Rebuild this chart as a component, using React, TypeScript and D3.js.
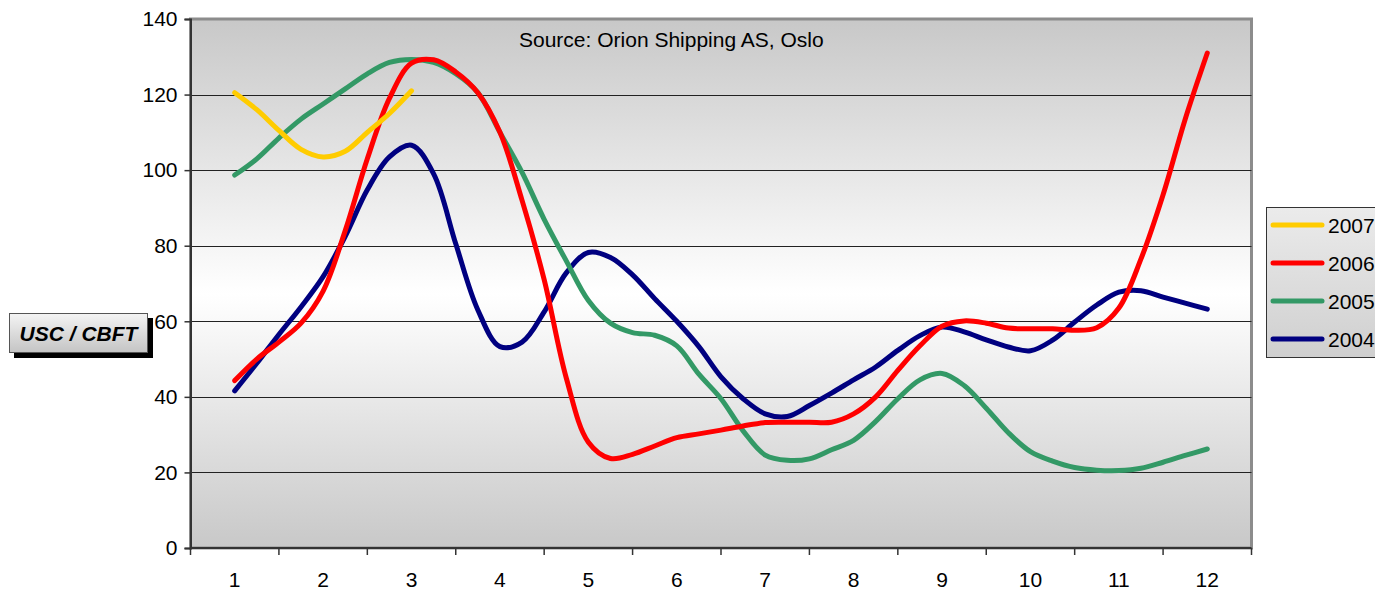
import * as d3 from "d3";
import { useEffect, useRef } from "react";

const W = 1375;
const H = 593;
const FONT = "'Liberation Sans', Arial, sans-serif";

const MONTHS = [1, 2, 3, 4, 5, 6, 7, 8, 9, 10, 11, 12];
const Y_TICKS = [0, 20, 40, 60, 80, 100, 120, 140];

// readings taken every quarter of a month
const POS = [
  1, 1.25, 1.5, 1.75, 2, 2.25, 2.5, 2.75, 3, 3.25, 3.5, 3.75, 4, 4.25, 4.5, 4.75,
  5, 5.25, 5.5, 5.75, 6, 6.25, 6.5, 6.75, 7, 7.25, 7.5, 7.75, 8, 8.25, 8.5, 8.75,
  9, 9.25, 9.5, 9.75, 10, 10.25, 10.5, 10.75, 11, 11.25, 11.5, 11.75, 12,
];

const Y2007 = [120.5, 116, 110.5, 105.5, 103.5, 105, 110, 115, 121];

const Y2006 = [
  44.3, 50, 54.5, 59.5, 68, 84, 103, 119, 128.3, 129.2, 126, 120.5, 110, 92, 71, 45,
  28, 23.7, 24.8, 27, 29.2, 30.2, 31.2, 32.3, 33.2, 33.3, 33.3, 33.3, 35.5, 40, 47, 53.5,
  58.7, 60.1, 59.5, 58.2, 58, 58, 57.6, 58.3, 63.5, 76.5, 93.5, 113.5, 131,
];

const Y2005 = [
  98.7, 103, 108.5, 113.5, 117.5, 121.5, 125.5, 128.5, 129.3, 128.5, 125.5, 120.5, 110, 99.4, 87, 76,
  65.5, 59.5, 57, 56.3, 53.5, 46, 39.5, 31, 24.6, 23.2, 23.6, 26, 28.5, 33.5, 39.5, 44.5,
  46.2, 43, 37, 30.5, 25.5, 23, 21.3, 20.6, 20.5, 21.1, 22.7, 24.5, 26.2,
];

const Y2004 = [
  41.6, 48.9, 56.5, 63.8, 71.8, 82.5, 94.8, 103.5, 106.6, 99, 80.5, 63, 53.3, 54.5, 62.5, 72.8,
  78.2, 76.9, 72.3, 66, 60, 53.3, 45.3, 39.5, 35.5, 34.8, 37.7, 41, 44.5, 47.9, 52.3, 56.2,
  58.5, 57.2, 55.1, 53.2, 52.2, 55, 59.8, 64.3, 67.7, 68.1, 66.4, 64.8, 63.2,
];

const SERIES = [
  { name: "2007", color: "#FFCC00", values: Y2007 },
  { name: "2006", color: "#FF0000", values: Y2006 },
  { name: "2005", color: "#339966", values: Y2005 },
  { name: "2004", color: "#000080", values: Y2004 },
];

export default function App() {
  const ref = useRef<SVGSVGElement | null>(null);

  useEffect(() => {
    const svg = d3.select(ref.current);
    svg.selectAll("*").remove();

    const left = 190.5;
    const right = 1251.5;
    const top = 19;
    const bottom = 548;

    const x = d3.scaleBand<number>().domain(MONTHS).range([left, right]).padding(0);
    const bw = x.bandwidth();
    const xm = d3
      .scaleLinear()
      .domain([1, 12])
      .range([(x(1) as number) + bw / 2, (x(12) as number) + bw / 2]);
    const y = d3.scaleLinear().domain([0, 140]).range([bottom, top]);

    const defs = svg.append("defs");
    const bg = defs.append("linearGradient").attr("id", "plotbg").attr("x1", 0).attr("y1", 0).attr("x2", 0).attr("y2", 1);
    bg.append("stop").attr("offset", "0%").attr("stop-color", "#c8c8c8");
    bg.append("stop").attr("offset", "52%").attr("stop-color", "#ffffff");
    bg.append("stop").attr("offset", "100%").attr("stop-color", "#c8c8c8");

    const lg = defs.append("linearGradient").attr("id", "legbg").attr("x1", 0).attr("y1", 0).attr("x2", 0).attr("y2", 1);
    lg.append("stop").attr("offset", "0%").attr("stop-color", "#ebebeb");
    lg.append("stop").attr("offset", "100%").attr("stop-color", "#cfcfcf");

    const ub = defs.append("linearGradient").attr("id", "unitbg").attr("x1", 0).attr("y1", 0).attr("x2", 0).attr("y2", 1);
    ub.append("stop").attr("offset", "0%").attr("stop-color", "#f4f4f4");
    ub.append("stop").attr("offset", "100%").attr("stop-color", "#c4c4c4");

    // plot area
    svg
      .append("rect")
      .attr("x", left)
      .attr("y", top)
      .attr("width", right - left)
      .attr("height", bottom - top)
      .attr("fill", "url(#plotbg)")
      .attr("stroke", "#8c8c8c")
      .attr("stroke-width", 3);

    // grid
    svg
      .append("g")
      .selectAll("line")
      .data(Y_TICKS.filter((t) => t > 0 && t < 140))
      .enter()
      .append("line")
      .attr("x1", left)
      .attr("x2", right)
      .attr("y1", (d) => Math.round(y(d)) + 0.5)
      .attr("y2", (d) => Math.round(y(d)) + 0.5)
      .attr("stroke", "#222")
      .attr("stroke-width", 1);

    // y axis
    const yAxis = svg
      .append("g")
      .attr("transform", `translate(${left},0)`)
      .call(d3.axisLeft(y).tickValues(Y_TICKS).tickSize(6).tickPadding(7));
    yAxis.select(".domain").attr("stroke", "#333").attr("stroke-width", 2);
    yAxis.selectAll(".tick line").attr("stroke", "#333").attr("stroke-width", 1.5);
    yAxis.selectAll("text").attr("font-family", FONT).attr("font-size", 21).attr("fill", "#000");

    // x axis
    const xAxis = svg.append("g").attr("transform", `translate(0,${bottom})`);
    xAxis
      .append("line")
      .attr("x1", left)
      .attr("x2", right)
      .attr("stroke", "#333")
      .attr("stroke-width", 2);
    const bounds = MONTHS.map((m) => x(m) as number).concat([right]);
    xAxis
      .selectAll("line.tk")
      .data(bounds)
      .enter()
      .append("line")
      .attr("class", "tk")
      .attr("x1", (d) => d)
      .attr("x2", (d) => d)
      .attr("y1", 0)
      .attr("y2", 7)
      .attr("stroke", "#333")
      .attr("stroke-width", 1.5);
    xAxis
      .selectAll("text")
      .data(MONTHS)
      .enter()
      .append("text")
      .attr("x", (d) => (x(d) as number) + bw / 2)
      .attr("y", 39)
      .attr("text-anchor", "middle")
      .attr("font-family", FONT)
      .attr("font-size", 21)
      .text((d) => d);

    // source note
    svg
      .append("text")
      .attr("x", 519)
      .attr("y", 47)
      .attr("font-family", FONT)
      .attr("font-size", 21)
      .text("Source: Orion Shipping AS, Oslo");

    // lines
    const line = d3
      .line<number>()
      .x((_, i) => xm(POS[i]))
      .y((d) => y(d))
      .curve(d3.curveCatmullRom.alpha(0.5));

    SERIES.slice()
      .reverse()
      .forEach((s) => {
        svg
          .append("path")
          .attr("d", line(s.values))
          .attr("fill", "none")
          .attr("stroke", s.color)
          .attr("stroke-width", 5)
          .attr("stroke-linejoin", "round")
          .attr("stroke-linecap", "round");
      });

    // legend
    const leg = svg.append("g");
    leg
      .append("rect")
      .attr("x", 1266.5)
      .attr("y", 207.5)
      .attr("width", 120)
      .attr("height", 150)
      .attr("fill", "url(#legbg)")
      .attr("stroke", "#333")
      .attr("stroke-width", 1);
    SERIES.forEach((s, i) => {
      const cy = 225 + i * 38;
      leg
        .append("line")
        .attr("x1", 1273)
        .attr("x2", 1322)
        .attr("y1", cy)
        .attr("y2", cy)
        .attr("stroke", s.color)
        .attr("stroke-width", 5)
        .attr("stroke-linecap", "round");
      leg
        .append("text")
        .attr("x", 1328)
        .attr("y", cy + 8)
        .attr("font-family", FONT)
        .attr("font-size", 21)
        .text(s.name);
    });

    // unit label box
    const ug = svg.append("g");
    ug.append("rect").attr("x", 14).attr("y", 318).attr("width", 139).attr("height", 40).attr("fill", "#000");
    ug.append("rect")
      .attr("x", 9.5)
      .attr("y", 313.5)
      .attr("width", 138)
      .attr("height", 39)
      .attr("fill", "url(#unitbg)")
      .attr("stroke", "#555")
      .attr("stroke-width", 1);
    ug.append("text")
      .attr("x", 78.5)
      .attr("y", 340.5)
      .attr("text-anchor", "middle")
      .attr("font-family", FONT)
      .attr("font-size", 21)
      .attr("font-weight", "bold")
      .attr("font-style", "italic")
      .text("USC / CBFT");
  }, []);

  return (
    <div style={{ position: "absolute", left: 0, top: 0, width: W, height: H, overflow: "hidden", background: "#fff" }}>
      <svg ref={ref} width={W} height={H} viewBox={`0 0 ${W} ${H}`} style={{ display: "block" }} />
    </div>
  );
}
